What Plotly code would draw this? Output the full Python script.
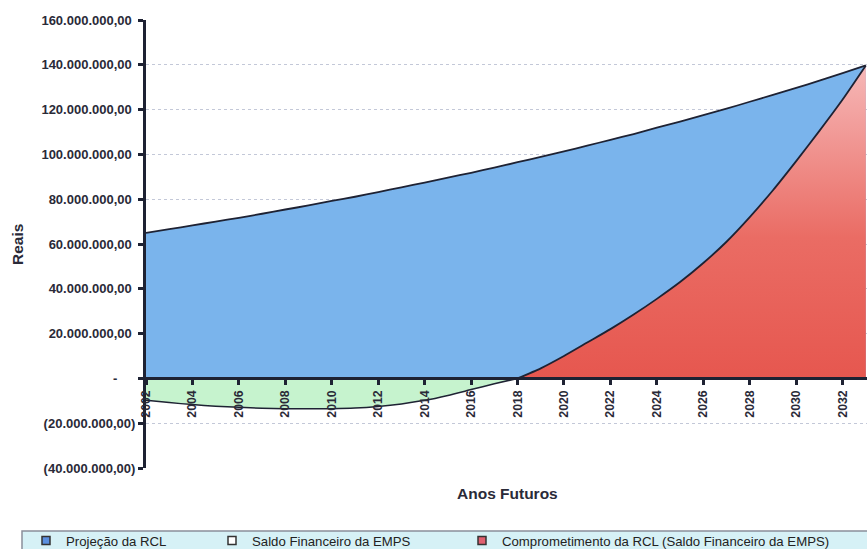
import plotly.graph_objects as go

# ---- data ----
years = list(range(2002, 2034))
projecao_rcl = [65.0, 66.6, 68.3, 70.0, 71.7, 73.5, 75.4, 77.2, 79.2, 81.1, 83.2, 85.3,
                87.4, 89.6, 91.8, 94.1, 96.5, 98.9, 101.3, 103.9, 106.5, 109.1, 111.9,
                114.6, 117.5, 120.4, 123.5, 126.6, 129.7, 132.9, 136.3, 139.7]  # milhões

saldo_years = list(range(2002, 2019))
saldo_emps = [-9.8, -10.8, -11.7, -12.4, -12.9, -13.3, -13.5, -13.6, -13.5, -13.2,
              -12.5, -11.4, -9.8, -7.6, -5.0, -2.4, 0.0]  # milhões

comp_years = list(range(2018, 2034))
comprometimento = [0.0, 4.5, 10.0, 16.0, 22.0, 28.5, 35.5, 43.0, 51.5, 61.0, 72.0,
                   84.0, 97.0, 110.5, 124.5, 139.7]  # milhões

y_tickvals = [-40e6, -20e6, 0, 20e6, 40e6, 60e6, 80e6, 100e6, 120e6, 140e6, 160e6]
y_ticktext = ["(40.000.000,00)", "(20.000.000,00)", "-", "20.000.000,00", "40.000.000,00",
              "60.000.000,00", "80.000.000,00", "100.000.000,00", "120.000.000,00",
              "140.000.000,00", "160.000.000,00"]
x_tickvals = list(range(2002, 2034, 2))

series_names = ["Projeção da RCL", "Saldo Financeiro da EMPS",
                "Comprometimento da RCL (Saldo Financeiro da EMPS)"]

M = 1e6
NB = "\u00a0"
FONT = "Liberation Sans, Arial, sans-serif"
LINE = "#1e2233"
TXT = "#2a2a38"

# accounting-style alignment of tick labels
def acct(t):
    if t == "-":
        return "-" + NB * 5
    if t.startswith("("):
        return t
    return t + NB

fig = go.Figure()

fig.add_trace(go.Scatter(
    x=years, y=[v * M for v in projecao_rcl], mode="lines", fill="tozeroy",
    fillcolor="#7ab4ec", line=dict(color=LINE, width=1.8, shape="spline", smoothing=0.6),
    showlegend=False, hoverinfo="skip"))

fig.add_trace(go.Scatter(
    x=saldo_years, y=[v * M for v in saldo_emps], mode="lines", fill="tozeroy",
    fillcolor="#c6f3ce", line=dict(color=LINE, width=1.5, shape="spline", smoothing=0.6),
    showlegend=False, hoverinfo="skip"))

fig.add_trace(go.Scatter(
    x=comp_years, y=[v * M for v in comprometimento], mode="lines", fill="tozeroy",
    fillgradient=dict(type="vertical",
                      colorscale=[[0, "#e6574f"], [0.45, "#ea6c64"], [1, "#f6b8b8"]]),
    line=dict(color=LINE, width=1.8, shape="spline", smoothing=0.6),
    showlegend=False, hoverinfo="skip"))

# legend entries (small squares)
leg_colors = ["#5b90e0", "#ffffff", "#e06070"]
leg_px = [26, 212, 462]  # left pixel of each legend block
for i, (nm, c) in enumerate(zip(series_names, leg_colors)):
    lg = "legend" if i == 0 else f"legend{i+1}"
    fig.add_trace(go.Scatter(
        x=[None], y=[None], mode="markers", name=nm,
        marker=dict(symbol="square", size=8, color=c, line=dict(color="#333", width=1.5)),
        legend=lg, showlegend=True))

W, H = 867, 549
L, R, T, B = 146, 0, 20, 81
pw, ph = W - L - R, H - T - B

legend_common = dict(bgcolor="rgba(0,0,0,0)", borderwidth=0, itemwidth=30,
                     font=dict(family=FONT, size=13.2, color="#222"),
                     yref="container", y=(H - 525.5) / H, yanchor="top", xanchor="left",
                     orientation="h")
fig.update_layout(
    legend=dict(x=(leg_px[0] - L) / pw, **legend_common),
    legend2=dict(x=(leg_px[1] - L) / pw, **legend_common),
    legend3=dict(x=(leg_px[2] - L) / pw, **legend_common),
)

# legend box
fig.add_shape(type="rect", xref="paper", yref="paper",
              x0=(22 - L) / pw, x1=1.05,
              y0=-(H + 10 - (H - B)) / ph, y1=-(531 - (H - B)) / ph,
              fillcolor="#d6f1f6", line=dict(color="#8a8f9a", width=1.5), layer="below")

fig.update_layout(
    width=W, height=H,
    margin=dict(l=L, r=R, t=T, b=B, autoexpand=False),
    paper_bgcolor="white", plot_bgcolor="white",
    font=dict(family=FONT, color=TXT),
    xaxis=dict(range=[2002, 2033.05], tickvals=x_tickvals,
               ticktext=[str(v) for v in x_tickvals], tickangle=-90,
               anchor="free", position=0.2, showline=True, linecolor=LINE,
               linewidth=3, ticks="outside", ticklen=5, tickwidth=3, tickcolor=LINE,
               showgrid=False, zeroline=False,
               tickfont=dict(family=FONT, size=12.3, color=TXT, weight="bold")),
    yaxis=dict(range=[-40e6, 160e6], tickvals=y_tickvals,
               ticktext=[acct(t) for t in y_ticktext],
               showline=True, linecolor=LINE, linewidth=3, ticks="outside",
               ticklen=5, tickwidth=3, tickcolor=LINE,
               showgrid=True, gridcolor="#c3c8d8", griddash="dot", gridwidth=1,
               zeroline=False,
               tickfont=dict(family=FONT, size=13, color=TXT, weight="bold")),
    showlegend=True,
)

fig.add_annotation(text="<b>Anos Futuros</b>", xref="paper", yref="paper",
                   x=(507 - L) / pw, y=-(494 - (H - B)) / ph, xanchor="center",
                   yanchor="middle", showarrow=False,
                   font=dict(family=FONT, size=15.5, color=TXT))
fig.add_annotation(text="<b>Reais</b>", xref="paper", yref="paper",
                   x=(17 - L) / pw, y=1 - (245 - T) / ph, xanchor="center",
                   yanchor="middle", showarrow=False,
                   textangle=-90, font=dict(family=FONT, size=15.5, color=TXT))

fig.write_html("out.html")
